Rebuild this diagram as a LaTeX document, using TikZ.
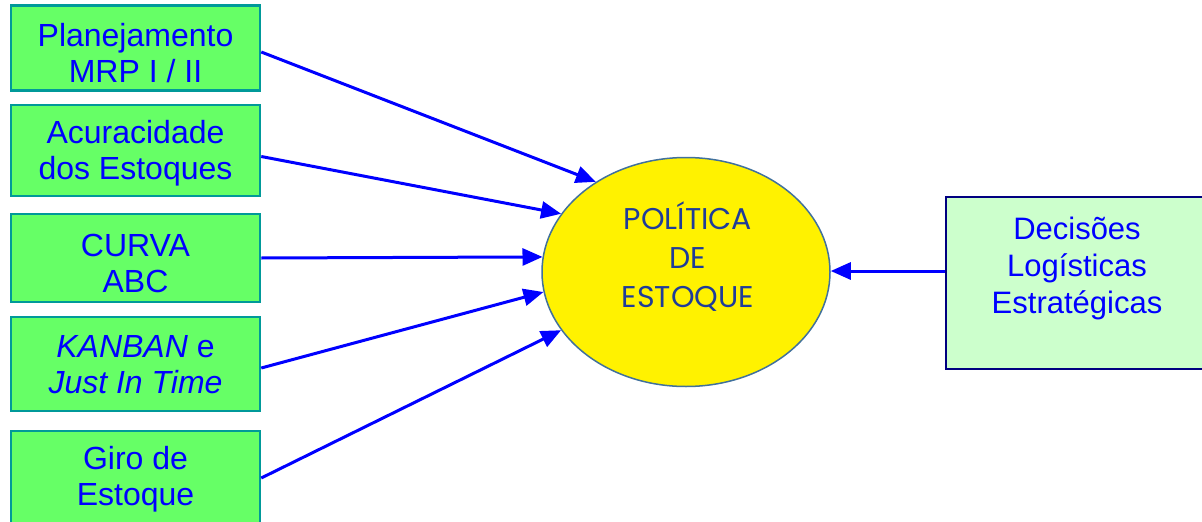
\documentclass[tikz,border=0pt]{standalone}
\usepackage{fontspec}
\setmainfont{Liberation Sans}
\newfontfamily\gothic{Poppins}
\usetikzlibrary{arrows.meta,calc,shapes.geometric}
\definecolor{boxgreen}{HTML}{66FF66}
\definecolor{boxteal}{HTML}{009999}
\definecolor{decfill}{HTML}{CCFFCC}
\definecolor{decborder}{HTML}{000080}
\definecolor{arrblue}{HTML}{0000FF}
\definecolor{poltext}{HTML}{1F3C99}
\definecolor{polborder}{HTML}{41719C}
\begin{document}
\begin{tikzpicture}[x=1pt,y=-1pt,
  leftbox/.style={draw=boxteal, line width=2.5pt, fill=boxgreen, minimum width=249pt,
    inner sep=0pt},
  lefttxt/.style={align=center, text=arrblue, inner sep=0pt, font=\fontsize{32}{36}\selectfont},
  arr/.style={draw=arrblue, line width=3pt, -{Triangle[length=20pt,width=17pt]}},
  poltxt/.style={align=center, text=poltext, font=\gothic\fontsize{30}{39}\selectfont},
  dectxt/.style={align=center, text=arrblue, font=\fontsize{31}{37}\selectfont}
]
\useasboundingbox (0,0) rectangle (1202,522);
\clip (0,0) rectangle (1202,522);
\fill[white] (0,0) rectangle (1202,522);

\node[leftbox, minimum height=85pt] (b1) at (135.5,48) {};
\node[leftbox, minimum height=91pt] (b2) at (135.5,150.5) {};
\node[leftbox, minimum height=88pt] (b3) at (135.5,258) {};
\node[leftbox, minimum height=94pt] (b4) at (135.5,364) {};
\node[leftbox, minimum height=94pt] (b5) at (135.5,478) {};
\node[lefttxt] (t1) at (135.5,53) {Planejamento\\MRP I / II};
\node[lefttxt] (t2) at (135.5,153.5) {Acuracidade\\dos Estoques};
\node[lefttxt] (t3) at (135.5,263) {CURVA\\ABC};
\node[lefttxt] (t4) at (135.5,364.5) {\textit{KANBAN} e\\\textit{Just In Time}};
\node[lefttxt] (t5) at (135.5,479.5) {Giro de\\Estoque};

\node[ellipse, draw=polborder, line width=1.5pt, fill=yellow, minimum width=288pt,
  minimum height=229pt, inner sep=0pt] (pol) at (686,272) {};
\node[poltxt] (poltxtnode) at (688,257) {POLÍTICA\\DE\\ESTOQUE};

\node[draw=decborder, line width=2.5pt, fill=decfill, minimum width=260pt,
  minimum height=172pt, inner sep=0pt] (dec) at (1076,283) {};
\node[dectxt] (dectxtnode) at (1077,268) {Decisões\\Logísticas\\Estratégicas};

\draw[arr] ($(b1.east)+(0,4)$) -- (pol.135);
\draw[arr] ($(b2.east)+(0,6)$) -- (pol.155);
\draw[arr] (b3.east) -- (pol.174);
\draw[arr] ($(b4.east)+(0,4)$) -- (pol.188);
\draw[arr] (b5.east) -- (pol.205);
\draw[arr] ($(dec.west)+(0,-12)$) -- (pol.east |- {$(dec.west)+(0,-12)$});
\end{tikzpicture}
\end{document}
